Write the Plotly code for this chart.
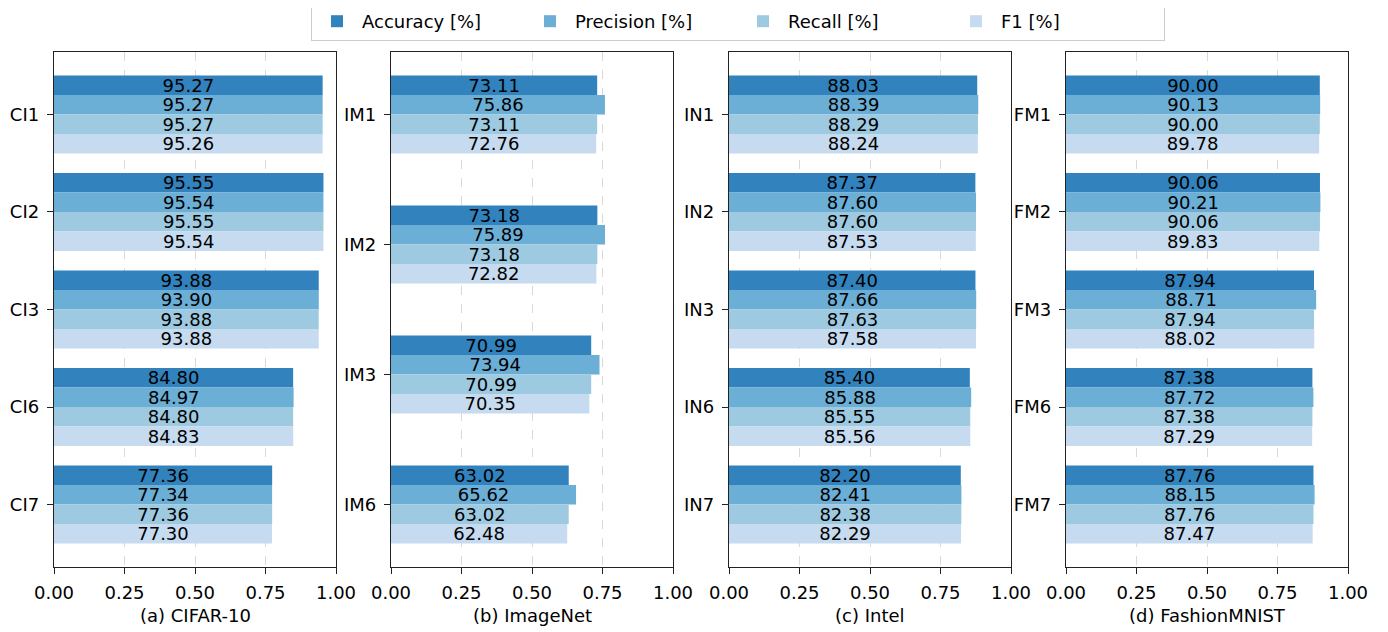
import plotly.graph_objects as go

metrics = ["Accuracy [%]", "Precision [%]", "Recall [%]", "F1 [%]"]
colors = ["#3182bd", "#6baed6", "#9ecae1", "#c6dbef"]

cifar_cats = ["CI1", "CI2", "CI3", "CI6", "CI7"]
cifar_acc = [95.27, 95.55, 93.88, 84.80, 77.36]
cifar_prec = [95.27, 95.54, 93.90, 84.97, 77.34]
cifar_rec = [95.27, 95.55, 93.88, 84.80, 77.36]
cifar_f1 = [95.26, 95.54, 93.88, 84.83, 77.30]

imnet_cats = ["IM1", "IM2", "IM3", "IM6"]
imnet_acc = [73.11, 73.18, 70.99, 63.02]
imnet_prec = [75.86, 75.89, 73.94, 65.62]
imnet_rec = [73.11, 73.18, 70.99, 63.02]
imnet_f1 = [72.76, 72.82, 70.35, 62.48]

intel_cats = ["IN1", "IN2", "IN3", "IN6", "IN7"]
intel_acc = [88.03, 87.37, 87.40, 85.40, 82.20]
intel_prec = [88.39, 87.60, 87.66, 85.88, 82.41]
intel_rec = [88.29, 87.60, 87.63, 85.55, 82.38]
intel_f1 = [88.24, 87.53, 87.58, 85.56, 82.29]

fmnist_cats = ["FM1", "FM2", "FM3", "FM6", "FM7"]
fmnist_acc = [90.00, 90.06, 87.94, 87.38, 87.76]
fmnist_prec = [90.13, 90.21, 88.71, 87.72, 88.15]
fmnist_rec = [90.00, 90.06, 87.94, 87.38, 87.76]
fmnist_f1 = [89.78, 89.83, 88.02, 87.29, 87.47]

panels = [
    ("(a) CIFAR-10", cifar_cats, [cifar_acc, cifar_prec, cifar_rec, cifar_f1], 0.2),
    ("(b) ImageNet", imnet_cats, [imnet_acc, imnet_prec, imnet_rec, imnet_f1], 0.15),
    ("(c) Intel", intel_cats, [intel_acc, intel_prec, intel_rec, intel_f1], 0.2),
    ("(d) FashionMNIST", fmnist_cats, [fmnist_acc, fmnist_prec, fmnist_rec, fmnist_f1], 0.2),
]

# page body has an 8px margin: work in screenshot pixels minus 8
OFF = 8
W, H = 1388 - OFF, 632 - OFF
x_px = [(54, 336), (391, 673), (729, 1011), (1066, 1348)]
y_top, y_bot = 52, 567
FONT = "DejaVu Sans"

def fx(px):
    return (px - OFF) / W

def fy(px):
    return 1 - (px - OFF) / H

fig = go.Figure()
layout = {}
annotations = []
for p, (title, cats, series, w) in enumerate(panels):
    sfx = "" if p == 0 else str(p + 1)
    for m, vals in enumerate(series):
        fig.add_trace(go.Bar(
            y=cats, x=[v / 100 for v in vals], orientation="h",
            width=w, offset=(m - 2) * w,
            marker=dict(color=colors[m], line=dict(width=0)),
            name=metrics[m], legendgroup=metrics[m], showlegend=(p == 0),
            text=[f"{v:.2f}" for v in vals], textposition="inside",
            insidetextanchor="middle", textangle=0, constraintext="none",
            insidetextfont=dict(color="black", size=18, family=FONT),
            xaxis="x" + sfx, yaxis="y" + sfx,
        ))
    n = len(cats)
    margin = 0.24 if w == 0.2 else 0.18
    top_ext = 2 * w + margin
    layout["xaxis" + sfx] = dict(
        domain=[fx(x_px[p][0]), fx(x_px[p][1])], anchor="y" + sfx,
        range=[0, 1], tickvals=[0, 0.25, 0.5, 0.75, 1.0], tickformat=".2f",
        showgrid=True, gridcolor="#d9d9d9", griddash="dash", gridwidth=1,
        showline=True, linecolor="#222", linewidth=1.4, mirror=True,
        ticks="outside", ticklen=6, tickwidth=1.3, tickcolor="#222",
        ticklabelstandoff=3,
        zeroline=False, automargin=False,
        tickfont=dict(size=18, family=FONT, color="black"),
    )
    layout["yaxis" + sfx] = dict(
        domain=[fy(y_bot), fy(y_top)], anchor="x" + sfx,
        type="category", range=[n - 1 + top_ext, -top_ext],
        showgrid=False, showline=True, linecolor="#222", linewidth=1.4, mirror=True,
        ticks="outside", ticklen=6, tickwidth=1.3, tickcolor="#222",
        ticklabelstandoff=4,
        zeroline=False, automargin=False,
        tickfont=dict(size=18, family=FONT, color="black"),
    )
    annotations.append(dict(
        text=title, x=fx((x_px[p][0] + x_px[p][1]) / 2), y=fy(615),
        xref="paper", yref="paper", showarrow=False,
        font=dict(size=18, family=FONT, color="black"),
        xanchor="center", yanchor="middle",
    ))

fig.update_layout(
    width=W, height=H, margin=dict(l=0, r=0, t=0, b=0, autoexpand=False),
    plot_bgcolor="white", paper_bgcolor="white",
    barmode="overlay",
    font=dict(family=FONT, size=18, color="black"),
    annotations=annotations,
    legend=dict(orientation="h", x=fx(311), xanchor="left", y=fy(2), yanchor="top",
                bordercolor="#cccccc", borderwidth=1, font=dict(size=18, family=FONT),
                itemwidth=40, entrywidth=158, traceorder="normal"),
    **layout,
)
fig.write_html("out.html")
